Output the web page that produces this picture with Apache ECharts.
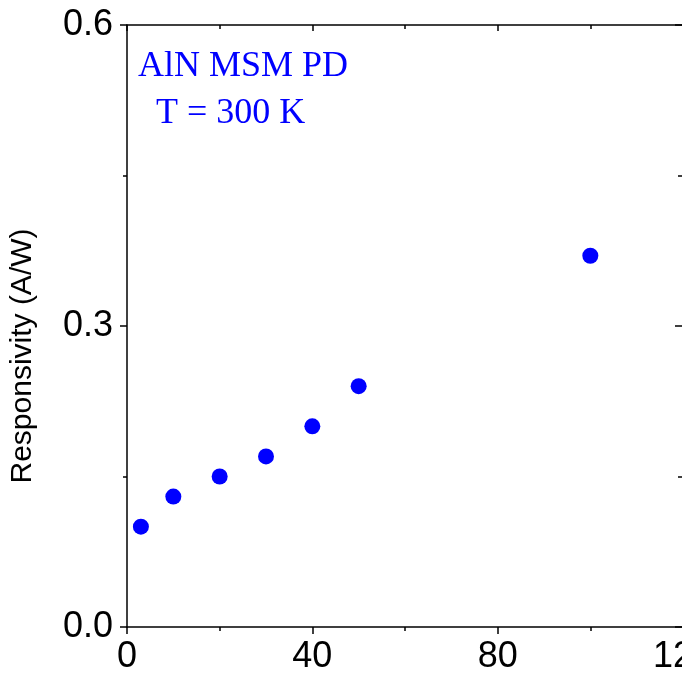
<!DOCTYPE html>
<html>
<head>
<meta charset="utf-8">
<script src="https://cdn.jsdelivr.net/npm/echarts@6/dist/echarts.min.js"></script>
<style>html,body{margin:0;padding:0;background:#fff;}#c{width:682px;height:677px;}</style>
</head>
<body>
<div id="c"></div>
<script>
const powerX = [3, 10, 20, 30, 40, 50, 100];
const responsivity = [0.10, 0.13, 0.15, 0.17, 0.20, 0.24, 0.37];
const xTicks = [0, 40, 80, 120];
const yTicks = [0.0, 0.3, 0.6];
const labelLine1 = 'AlN MSM PD';
const labelLine2 = 'T = 300 K';
const yName = 'Responsivity (A/W)';

const points = powerX.map((x, i) => [x, responsivity[i]]);
const chart = echarts.init(document.getElementById('c'), null, {renderer: 'canvas'});
const axisLine = {show: true, onZero: false, lineStyle: {color: '#000', width: 1.5}};
const font = 'Arial, "Liberation Sans", sans-serif';
chart.setOption({
  animation: false,
  backgroundColor: '#fff',
  grid: {left: 127, top: 25, right: -1, bottom: 50, containLabel: false, outerBoundsMode: 'none'},
  xAxis: [{
    type: 'value', min: xTicks[0], max: xTicks[xTicks.length - 1], interval: 40,
    position: 'bottom',
    axisLine: axisLine,
    axisTick: {show: true, inside: false, length: 7, lineStyle: {color: '#000', width: 1.5}},
    minorTick: {show: true, splitNumber: 2, length: 4, lineStyle: {color: '#000', width: 1.5}},
    splitLine: {show: false},
    axisLabel: {color: '#000', fontSize: 36, fontFamily: font, margin: 12, hideOverlap: false}
  }, {
    type: 'value', min: xTicks[0], max: xTicks[xTicks.length - 1], interval: 40,
    position: 'top',
    axisLine: axisLine,
    axisTick: {show: true, inside: true, length: 6, lineStyle: {color: '#000', width: 1.5}},
    minorTick: {show: true, splitNumber: 2, length: 4, lineStyle: {color: '#000', width: 1.5}},
    splitLine: {show: false},
    axisLabel: {show: false}
  }],
  yAxis: [{
    type: 'value', min: yTicks[0], max: yTicks[yTicks.length - 1], interval: 0.3,
    position: 'left',
    name: yName, nameLocation: 'middle', nameGap: 89, nameRotate: 90,
    nameTextStyle: {color: '#000', fontSize: 30, fontFamily: font, padding: [0, 60, 0, 0]},
    axisLine: axisLine,
    axisTick: {show: true, inside: false, length: 7, lineStyle: {color: '#000', width: 1.5}},
    minorTick: {show: true, splitNumber: 2, length: 4, lineStyle: {color: '#000', width: 1.5}},
    splitLine: {show: false},
    axisLabel: {color: '#000', fontSize: 36, fontFamily: font, margin: 14,
      formatter: v => v.toFixed(1)}
  }, {
    type: 'value', min: yTicks[0], max: yTicks[yTicks.length - 1], interval: 0.3,
    position: 'right',
    axisLine: axisLine,
    axisTick: {show: true, inside: true, length: 8, lineStyle: {color: '#000', width: 1.5}},
    minorTick: {show: true, splitNumber: 2, length: 5, lineStyle: {color: '#000', width: 1.5}},
    splitLine: {show: false},
    axisLabel: {show: false}
  }],
  series: [{
    type: 'scatter', xAxisIndex: 0, yAxisIndex: 0,
    data: points, symbol: 'circle', symbolSize: 16,
    itemStyle: {color: '#0000ff', opacity: 1}
  }],
  graphic: [
    {type: 'text', left: 138, top: 49, style: {text: labelLine1, fill: '#0000ff',
      font: '36px "Liberation Serif", "Times New Roman", serif'}},
    {type: 'text', left: 156, top: 96, style: {text: labelLine2, fill: '#0000ff',
      font: '36px "Liberation Serif", "Times New Roman", serif'}}
  ]
});
</script>
</body>
</html>
